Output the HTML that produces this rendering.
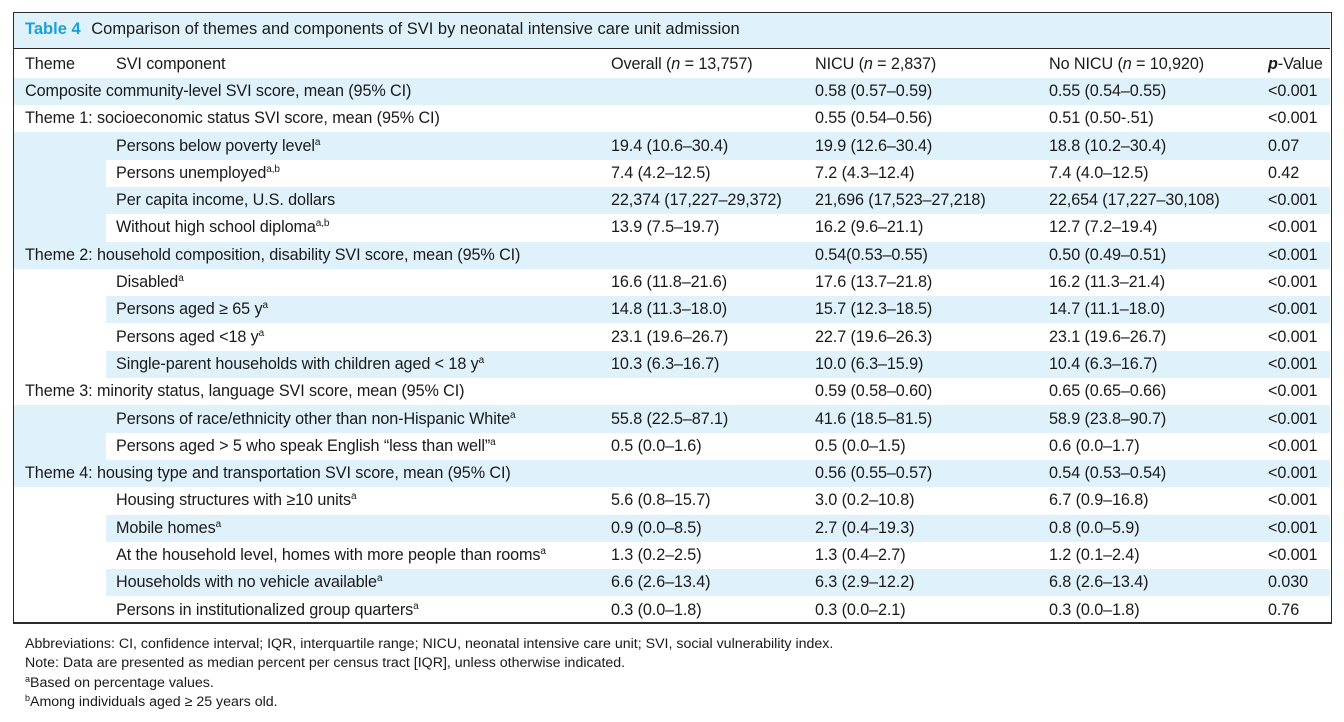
<!DOCTYPE html>
<html><head><meta charset="utf-8"><style>
body{margin:0;width:1344px;height:722px;background:#fff;position:relative;font-family:"Liberation Sans","DejaVu Sans",sans-serif;color:#1a1a1a;overflow:hidden}
#box{position:absolute;left:13px;top:12px;width:1317px;height:609px;overflow:hidden}
#frame{position:absolute;left:13px;top:12px;width:1317px;height:609px;border:1.5px solid #2a2a2a;border-bottom-width:2px;z-index:5}
#title{position:absolute;left:0;top:0;width:1317px;height:37px;background:#dff1fb;border-bottom:1.5px solid #2a2a2a;font-size:16.5px;line-height:34px;padding-left:12px;box-sizing:border-box}
#title b{color:#1aa0da;margin-right:6px}
table{position:absolute;left:1px;top:38.5px;border-collapse:collapse;width:1316px;font-size:16.2px;letter-spacing:-0.1px}
td{height:27.3px;padding:0;white-space:nowrap;vertical-align:middle}
tr{height:27.3px}
.s{background:#dff1fb}
.t{padding-left:11px}
.c{padding-left:10px}
.o{padding-left:3px}
sup{font-size:10px;vertical-align:6px;line-height:0}
.fn{position:absolute;left:25px;font-size:14.2px;color:#1a1a1a}
.fn sup{font-size:9px;vertical-align:5px}
</style></head><body>
<div id="frame"></div>
<div id="box">
<div id="title"><b>Table 4</b> Comparison of themes and components of SVI by neonatal intensive care unit admission</div>
<table>
<colgroup><col style="width:92px"><col style="width:502px"><col style="width:207px"><col style="width:234px"><col style="width:219px"><col style="width:62px"></colgroup>
<tr><td class="t">Theme</td><td class="c">SVI component</td><td class="o">Overall (<i>n</i> = 13,757)</td><td>NICU (<i>n</i> = 2,837)</td><td>No NICU (<i>n</i> = 10,920)</td><td><b><i>p</i></b>-Value</td></tr>
<tr class="s"><td class="t" colspan="2">Composite community-level SVI score, mean (95% CI)</td><td></td><td>0.58 (0.57–0.59)</td><td>0.55 (0.54–0.55)</td><td>&lt;0.001</td></tr>
<tr><td class="t" colspan="2">Theme 1: socioeconomic status SVI score, mean (95% CI)</td><td></td><td>0.55 (0.54–0.56)</td><td>0.51 (0.50-.51)</td><td>&lt;0.001</td></tr>
<tr class="s"><td class="s" rowspan="4"></td><td class="c">Persons below poverty level<sup>a</sup></td><td class="o">19.4 (10.6–30.4)</td><td>19.9 (12.6–30.4)</td><td>18.8 (10.2–30.4)</td><td>0.07</td></tr>
<tr><td class="c">Persons unemployed<sup>a,b</sup></td><td class="o">7.4 (4.2–12.5)</td><td>7.2 (4.3–12.4)</td><td>7.4 (4.0–12.5)</td><td>0.42</td></tr>
<tr class="s"><td class="c">Per capita income, U.S. dollars</td><td class="o">22,374 (17,227–29,372)</td><td>21,696 (17,523–27,218)</td><td>22,654 (17,227–30,108)</td><td>&lt;0.001</td></tr>
<tr><td class="c">Without high school diploma<sup>a,b</sup></td><td class="o">13.9 (7.5–19.7)</td><td>16.2 (9.6–21.1)</td><td>12.7 (7.2–19.4)</td><td>&lt;0.001</td></tr>
<tr class="s"><td class="t" colspan="2">Theme 2: household composition, disability SVI score, mean (95% CI)</td><td></td><td>0.54(0.53–0.55)</td><td>0.50 (0.49–0.51)</td><td>&lt;0.001</td></tr>
<tr><td rowspan="4" style="background:#fff"></td><td class="c">Disabled<sup>a</sup></td><td class="o">16.6 (11.8–21.6)</td><td>17.6 (13.7–21.8)</td><td>16.2 (11.3–21.4)</td><td>&lt;0.001</td></tr>
<tr class="s"><td class="c">Persons aged ≥ 65 y<sup>a</sup></td><td class="o">14.8 (11.3–18.0)</td><td>15.7 (12.3–18.5)</td><td>14.7 (11.1–18.0)</td><td>&lt;0.001</td></tr>
<tr><td class="c">Persons aged &lt;18 y<sup>a</sup></td><td class="o">23.1 (19.6–26.7)</td><td>22.7 (19.6–26.3)</td><td>23.1 (19.6–26.7)</td><td>&lt;0.001</td></tr>
<tr class="s"><td class="c">Single-parent households with children aged &lt; 18 y<sup>a</sup></td><td class="o">10.3 (6.3–16.7)</td><td>10.0 (6.3–15.9)</td><td>10.4 (6.3–16.7)</td><td>&lt;0.001</td></tr>
<tr><td class="t" colspan="2">Theme 3: minority status, language SVI score, mean (95% CI)</td><td></td><td>0.59 (0.58–0.60)</td><td>0.65 (0.65–0.66)</td><td>&lt;0.001</td></tr>
<tr class="s"><td class="s" rowspan="2"></td><td class="c">Persons of race/ethnicity other than non-Hispanic White<sup>a</sup></td><td class="o">55.8 (22.5–87.1)</td><td>41.6 (18.5–81.5)</td><td>58.9 (23.8–90.7)</td><td>&lt;0.001</td></tr>
<tr><td class="c">Persons aged &gt; 5 who speak English “less than well”<sup>a</sup></td><td class="o">0.5 (0.0–1.6)</td><td>0.5 (0.0–1.5)</td><td>0.6 (0.0–1.7)</td><td>&lt;0.001</td></tr>
<tr class="s"><td class="t" colspan="2">Theme 4: housing type and transportation SVI score, mean (95% CI)</td><td></td><td>0.56 (0.55–0.57)</td><td>0.54 (0.53–0.54)</td><td>&lt;0.001</td></tr>
<tr><td rowspan="5" style="background:#fff"></td><td class="c">Housing structures with ≥10 units<sup>a</sup></td><td class="o">5.6 (0.8–15.7)</td><td>3.0 (0.2–10.8)</td><td>6.7 (0.9–16.8)</td><td>&lt;0.001</td></tr>
<tr class="s"><td class="c">Mobile homes<sup>a</sup></td><td class="o">0.9 (0.0–8.5)</td><td>2.7 (0.4–19.3)</td><td>0.8 (0.0–5.9)</td><td>&lt;0.001</td></tr>
<tr><td class="c">At the household level, homes with more people than rooms<sup>a</sup></td><td class="o">1.3 (0.2–2.5)</td><td>1.3 (0.4–2.7)</td><td>1.2 (0.1–2.4)</td><td>&lt;0.001</td></tr>
<tr class="s"><td class="c">Households with no vehicle available<sup>a</sup></td><td class="o">6.6 (2.6–13.4)</td><td>6.3 (2.9–12.2)</td><td>6.8 (2.6–13.4)</td><td>0.030</td></tr>
<tr><td class="c">Persons in institutionalized group quarters<sup>a</sup></td><td class="o">0.3 (0.0–1.8)</td><td>0.3 (0.0–2.1)</td><td>0.3 (0.0–1.8)</td><td>0.76</td></tr>
</table>
</div>
<div class="fn" style="top:636px">Abbreviations: CI, confidence interval; IQR, interquartile range; NICU, neonatal intensive care unit; SVI, social vulnerability index.</div>
<div class="fn" style="top:655px">Note: Data are presented as median percent per census tract [IQR], unless otherwise indicated.</div>
<div class="fn" style="top:675px"><sup>a</sup>Based on percentage values.</div>
<div class="fn" style="top:694px"><sup>b</sup>Among individuals aged ≥ 25 years old.</div>
</body></html>
